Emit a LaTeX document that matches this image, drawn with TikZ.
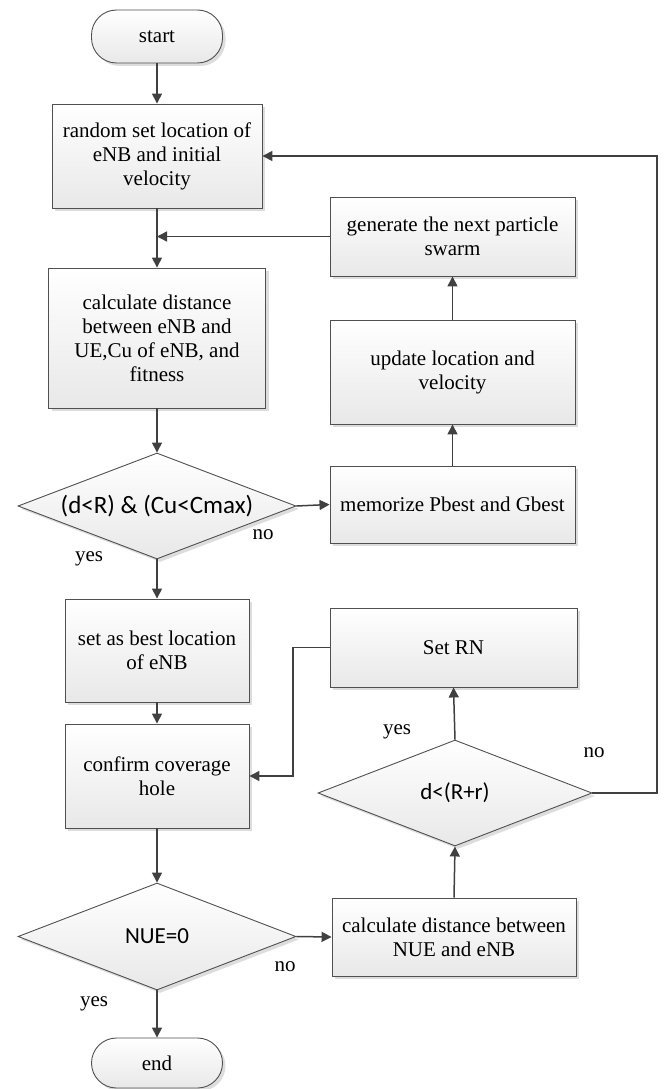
\documentclass[tikz,border=0pt]{standalone}
\usepackage{fontspec}
\setmainfont{Liberation Serif}
\newfontfamily\diafont{Carlito}
\usetikzlibrary{shapes.geometric,arrows.meta,shadows}
\definecolor{bord}{HTML}{505050}
\definecolor{arr}{HTML}{404040}
\begin{document}
\begin{tikzpicture}[x=1pt,y=-1pt,
  base/.style={draw=bord, line width=0.9pt, top color=white, bottom color=black!9,
     drop shadow={shadow xshift=3pt, shadow yshift=-3pt, fill=black!22, opacity=0.6},
     align=center, font=\fontsize{21}{24}\selectfont, inner sep=0pt},
  procbox/.style={base, rectangle},
  termbox/.style={base, rectangle, rounded corners=25pt},
  decbox/.style={base, diamond, shape aspect=2.6, font=\diafont\fontsize{23}{26}\selectfont},
  conn/.style={draw=arr, line width=1.5pt, -{Triangle[length=10pt,width=10pt]}},
  line/.style={draw=arr, line width=1.5pt},
  lbl/.style={font=\fontsize{21}{24}\selectfont, inner sep=0pt}
]
\useasboundingbox (0,0) rectangle (664,1089);

\node[termbox, minimum width=131pt, minimum height=53pt] (start) at (157,36.5) {start};
\node[procbox, minimum width=210pt, minimum height=104pt] (b1) at (157,156) {random set location of\\eNB and initial\\velocity};
\node[procbox, minimum width=217pt, minimum height=140pt] (b2) at (157,338) {calculate distance\\between eNB and\\UE,Cu of eNB, and\\fitness};
\node[decbox, minimum width=278pt, minimum height=106pt, font=\diafont\fontsize{25}{28}\selectfont] (d1) at (157,506) {(d<R) \& (Cu<Cmax)};
\node[procbox, minimum width=245pt, minimum height=77pt] (mem) at (452.5,504.5) {memorize Pbest and Gbest};
\node[procbox, minimum width=245pt, minimum height=104pt] (upd) at (452.5,372) {update location and\\velocity};
\node[procbox, minimum width=245pt, minimum height=79pt] (gen) at (452.5,236.5) {generate the next particle\\swarm};
\node[procbox, minimum width=184pt, minimum height=103pt] (best) at (157,650.5) {set as best location\\of eNB};
\node[procbox, minimum width=184pt, minimum height=104pt] (conf) at (157,776) {confirm coverage\\hole};
\node[procbox, minimum width=247pt, minimum height=79pt] (rn) at (453.5,647.5) {Set RN};
\node[decbox, minimum width=274pt, minimum height=106pt] (d2) at (455,793) {d<(R+r)};
\node[procbox, minimum width=244pt, minimum height=78pt] (nue) at (454,937) {calculate distance between\\NUE and eNB};
\node[decbox, minimum width=278pt, minimum height=107pt] (d3) at (157,936.5) {NUE=0};
\node[termbox, minimum width=131pt, minimum height=50pt] (end) at (157,1063) {end};

\coordinate (merge) at (157,236.5);
\coordinate (rnturn1) at (293,647.5);
\coordinate (rnturn2) at (293,776);
\coordinate (loop1) at (657,793);
\coordinate (loop2) at (657,156);

\draw[conn] (start) -- (b1);
\draw[conn] (b1) -- (b2);
\draw[conn] (gen.west) -- (merge);
\draw[conn] (b2) -- (d1);
\draw[conn] (d1.east) -- (mem.west);
\draw[conn] (mem) -- (upd);
\draw[conn] (upd) -- (gen);
\draw[conn] (d1.south) -- (best.north);
\draw[conn] (best) -- (conf);
\draw[conn] (conf) -- (d3.north);
\draw[conn] (d3.east) -- (nue.west);
\draw[conn] (d3.south) -- (end.north);
\draw[conn] (nue.north) -- (d2.south);
\draw[conn] (d2.north) -- (rn.south);
\draw[conn] (rn.west) -- (rnturn1) -- (rnturn2) -- (conf.east);
\draw[conn] (d2.east) -- (loop1) -- (loop2) -- (b1.east);

\node[lbl] (no1) at (263,535) {no};
\node[lbl] (yes1) at (89,559) {yes};
\node[lbl] (yes2) at (397,732) {yes};
\node[lbl] (no2) at (594,753) {no};
\node[lbl] (no3) at (285,967) {no};
\node[lbl] (yes3) at (94,1004) {yes};
\end{tikzpicture}
\end{document}
